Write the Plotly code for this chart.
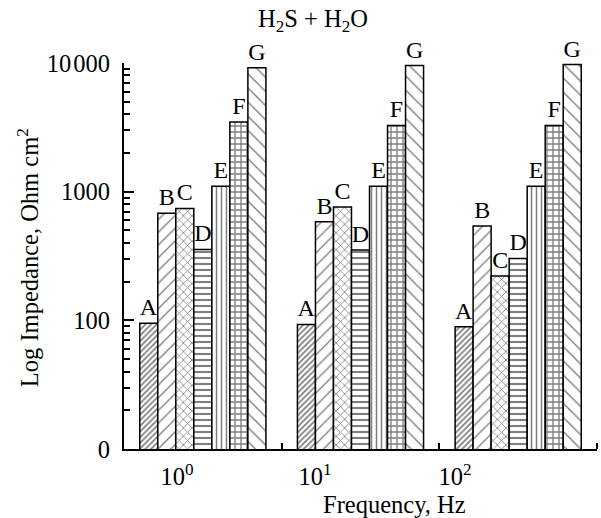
import plotly.graph_objects as go

# Impedance (Ohm cm^2) of coatings A–G at three frequencies, H2S + H2O medium
freq_pos = [0, 1, 2]
freq_labels = ["10<sup>0</sup>", "10<sup>1</sup>", "10<sup>2</sup>"]
freq_label_pos = [-0.164, 0.711, 1.599]

series_names = ["A", "B", "C", "D", "E", "F", "G"]
imp_A = [95, 93, 89]
imp_B = [680, 585, 540]
imp_C = [740, 760, 221]
imp_D = [356, 352, 303]
imp_E = [1100, 1100, 1100]
imp_F = [3480, 3270, 3270]
imp_G = [9200, 9550, 9720]
series_values = [imp_A, imp_B, imp_C, imp_D, imp_E, imp_F, imp_G]

y_tick_vals = [10, 100, 1000, 10000]
y_tick_text = ["0", "100", "1000", "10\u200a000"]

# hatch style per coating: (shape, tile size, solidity)
hatches = [
    ("/", 4, 0.45),
    ("/", 9, 0.15),
    ("x", 6, 0.25),
    ("-", 6, 0.35),
    ("|", 5, 0.3),
    ("+", 6, 0.4),
    ("\\", 10, 0.14),
]

FONT = "Liberation Serif, Times New Roman, serif"
FS = 24.5

fig = go.Figure()
for name, vals, (shape, size, sol) in zip(series_names, series_values, hatches):
    fig.add_trace(go.Bar(
        x=freq_pos,
        y=vals,
        name=name,
        text=[name] * len(vals),
        textposition="outside",
        constraintext="none",
        cliponaxis=False,
        textfont=dict(family=FONT, size=24, color="black"),
        marker=dict(
            color="white",
            line=dict(color="black", width=1.5),
            pattern=dict(shape=shape, size=size, solidity=sol,
                         fgcolor="black", bgcolor="white", fillmode="overlay"),
        ),
        showlegend=False,
    ))

minor_y = [m * 10 ** d for d in range(1, 4) for m in range(2, 10)]

fig.update_layout(
    width=601,
    height=518,
    margin=dict(l=124, r=4, t=63, b=69),
    paper_bgcolor="white",
    plot_bgcolor="white",
    barmode="group",
    bargap=0.2,
    bargroupgap=0,
    font=dict(family=FONT, size=FS, color="black"),
    xaxis=dict(
        range=[-0.5, 2.5],
        showline=True, linecolor="black", linewidth=2,
        showgrid=False, zeroline=False,
        tickmode="array", tickvals=freq_label_pos, ticktext=freq_labels,
        ticks="", ticklabelstandoff=5,
        tickfont=dict(family=FONT, size=FS),
        minor=dict(tickvals=[0.5, 1.5, 2.5], ticks="inside", ticklen=6,
                   tickwidth=1.5, tickcolor="black"),
    ),
    yaxis=dict(
        type="log",
        range=[1, 4],
        showline=True, linecolor="black", linewidth=2,
        showgrid=False, zeroline=False,
        tickmode="array", tickvals=y_tick_vals, ticktext=y_tick_text,
        ticks="inside", ticklen=10, tickwidth=1.5, tickcolor="black",
        ticklabelstandoff=7,
        tickfont=dict(family=FONT, size=FS),
        minor=dict(tickvals=minor_y, ticks="inside", ticklen=6,
                   tickwidth=1.5, tickcolor="black"),
    ),
    annotations=[
        dict(text="H<sub>2</sub>S + H<sub>2</sub>O", xref="paper", yref="paper",
             x=0.40, y=1.111, xanchor="center", yanchor="middle",
             showarrow=False, font=dict(family=FONT, size=FS)),
        dict(text="Frequency, Hz", xref="paper", yref="paper",
             x=0.727, y=-0.145, xanchor="right", yanchor="middle",
             showarrow=False, font=dict(family=FONT, size=FS)),
        dict(text="Log Impedance, Ohm cm<sup>2</sup>", xref="paper", yref="paper",
             x=-0.203, y=0.497, xanchor="center", yanchor="middle", textangle=-90,
             showarrow=False, font=dict(family=FONT, size=FS)),
    ],
)

fig.write_html("out.html")
